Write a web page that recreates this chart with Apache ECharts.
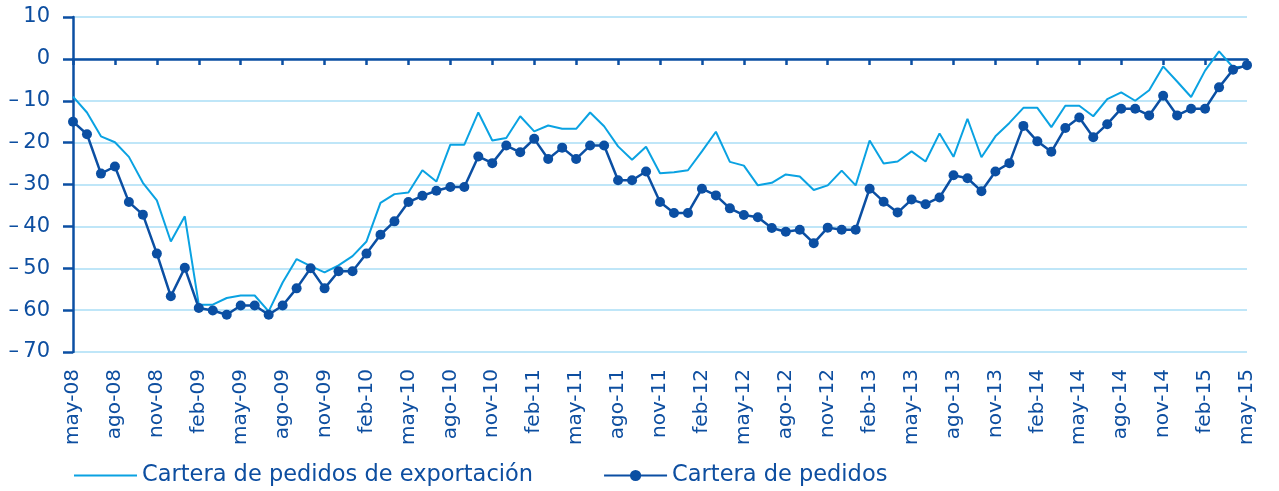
<!DOCTYPE html>
<html>
<head>
<meta charset="utf-8">
<script src="https://cdn.jsdelivr.net/npm/echarts@6/dist/echarts.min.js"></script>
<style>
    html, body { margin: 0; padding: 0; background: #fff; }
    #main { width: 1279px; height: 491px; }
</style>
</head>
<body>
<div id="main"></div>
<script>
    // meses de may-08 a may-15
    var mesesNombre = ['ene', 'feb', 'mar', 'abr', 'may', 'jun', 'jul', 'ago', 'sep', 'oct', 'nov', 'dic'];
    var categorias = [];
    for (var k = 0; k < 85; k++) {
        var m = (4 + k) % 12;
        var a = 8 + Math.floor((4 + k) / 12);
        categorias.push(mesesNombre[m] + '-' + (a < 10 ? '0' + a : a));
    }

    var serieExportacion = [
        -9, -12.8, -18.5, -19.9, -23.4, -29.6, -33.8, -43.6, -37.6, -58.7,
        -58.7, -57.1, -56.5, -56.5, -60.3, -53.4, -47.8, -49.5, -51.0, -49.3,
        -47.1, -43.6, -34.4, -32.3, -31.9, -26.6, -29.3, -20.5, -20.5, -12.8,
        -19.5, -18.9, -13.7, -17.3, -15.9, -16.7, -16.7, -12.8, -16.1, -20.9,
        -24.1, -21.0, -27.3, -27.1, -26.6, -22.1, -17.4, -24.6, -25.5, -30.2,
        -29.6, -27.6, -28.1, -31.3, -30.2, -26.7, -30.2, -19.5, -25.0, -24.5,
        -22.1, -24.5, -17.8, -23.4, -14.3, -23.5, -18.5, -15.3, -11.7, -11.7,
        -16.3, -11.2, -11.2, -13.7, -9.6, -8.0, -10.0, -7.5, -1.8, -5.4,
        -9.1, -2.8, 1.8, -2.0, -1.8
    ];

    var seriePedidos = [
        -15, -18, -27.4, -25.7, -34.2, -37.2, -46.5, -56.7, -49.9, -59.5,
        -60.1, -61.1, -58.9, -58.9, -61.1, -58.9, -54.8, -50.0, -54.8, -50.7,
        -50.7, -46.5, -42.0, -38.8, -34.2, -32.7, -31.5, -30.6, -30.6, -23.3,
        -24.9, -20.7, -22.3, -19.1, -23.9, -21.2, -23.9, -20.7, -20.7, -29.0,
        -29.0, -26.9, -34.2, -36.8, -36.8, -31.0, -32.6, -35.7, -37.3, -37.8,
        -40.4, -41.3, -40.8, -44.0, -40.3, -40.8, -40.8, -31.0, -34.1, -36.7,
        -33.6, -34.7, -33.1, -27.8, -28.5, -31.6, -26.9, -24.9, -16.0, -19.7,
        -22.2, -16.5, -14.0, -18.7, -15.6, -11.9, -11.9, -13.5, -8.8, -13.5,
        -11.9, -11.9, -6.8, -2.6, -1.5
    ];

    var azulOscuro = '#0b4fa3';
    var azulClaro = '#0aa2e2';
    var texto = '#0d4ea0';
    var fuente = 'DejaVu Sans';

    var myChart = echarts.init(document.getElementById('main'));

    var option = {
        animation: false,
        backgroundColor: '#fff',
        grid: { left: 73, right: 32, top: 17, bottom: 139 },
        legend: {
            left: 68,
            top: 459,
            itemWidth: 63,
            itemHeight: 14,
            itemGap: 70,
            textStyle: { fontFamily: fuente, fontSize: 22.5, color: texto },
            data: ['Cartera de pedidos de exportación', 'Cartera de pedidos']
        },
        xAxis: [
            {
                type: 'category',
                data: categorias,
                boundaryGap: false,
                position: 'bottom',
                axisLine: { show: false, onZero: false },
                axisTick: { show: false },
                axisLabel: {
                    interval: 2,
                    rotate: 90,
                    margin: 17,
                    fontFamily: fuente,
                    fontSize: 20,
                    color: texto
                },
                splitLine: { show: false }
            },
            {
                // linea del cero con una marca cada 3 meses
                type: 'value',
                min: 0,
                max: 84,
                interval: 3,
                position: 'top',
                axisLine: { show: true, onZero: true, lineStyle: { color: azulOscuro, width: 2.5 } },
                axisTick: { show: true, inside: true, length: 6, lineStyle: { color: azulOscuro, width: 2.5 } },
                axisLabel: { show: false },
                splitLine: { show: false }
            }
        ],
        yAxis: {
            type: 'value',
            min: -70,
            max: 10,
            interval: 10,
            axisLine: { show: true, onZero: false, lineStyle: { color: azulOscuro, width: 2.5 } },
            axisTick: { show: true, length: 10, lineStyle: { color: azulOscuro, width: 2.5 } },
            axisLabel: {
                margin: 23,
                fontFamily: fuente,
                fontSize: 21,
                color: texto,
                formatter: function (v) { return v < 0 ? '\u2013\u2009' + (-v) : String(v); }
            },
            splitLine: { show: true, lineStyle: { color: '#bfe6f8', width: 2 } }
        },
        series: [
            {
                name: 'Cartera de pedidos de exportación',
                type: 'line',
                data: serieExportacion,
                symbol: 'circle',
                showSymbol: false,
                lineStyle: { color: azulClaro, width: 2 },
                itemStyle: { color: 'rgba(0,0,0,0)', borderWidth: 0 },
                z: 3
            },
            {
                name: 'Cartera de pedidos',
                type: 'line',
                data: seriePedidos,
                symbol: 'circle',
                symbolSize: 10,
                showAllSymbol: true,
                lineStyle: { color: azulOscuro, width: 2.5 },
                itemStyle: { color: azulOscuro },
                z: 4
            }
        ]
    };

    myChart.setOption(option);
</script>
</body>
</html>
